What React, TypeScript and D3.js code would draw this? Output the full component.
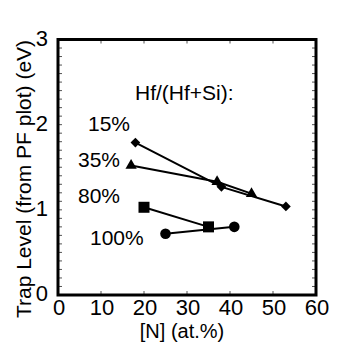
import React from "react";
import * as d3 from "d3";

const xTicks = [0, 10, 20, 30, 40, 50, 60];
const yTicks = [0, 1, 2, 3];

const s15x = [18, 38, 53];
const s15y = [1.79, 1.27, 1.04];
const s35x = [17, 37, 45];
const s35y = [1.52, 1.33, 1.19];
const s80x = [20, 35];
const s80y = [1.03, 0.8];
const s100x = [25, 41];
const s100y = [0.72, 0.8];

const seriesLabels = ["15%", "35%", "80%", "100%"];
const legendTitle = "Hf/(Hf+Si):";
const xTitle = "[N] (at.%)";
const yTitle = "Trap Level (from PF plot) (eV)";

const W = 342, H = 347;
const L = 58, R = 316, T = 39.5, B = 295;

export default function App() {
  const x = d3.scaleLinear().domain([0, 60]).range([L, R]);
  const y = d3.scaleLinear().domain([0, 3]).range([B, T]);
  const line = d3.line<[number, number]>().x(d => x(d[0])).y(d => y(d[1]));
  const pts = (xs: number[], ys: number[]) => xs.map((v, i) => [v, ys[i]] as [number, number]);
  const font = "Liberation Sans, Arial, sans-serif";
  const minorY = d3.range(1, 30).map(i => i / 10);
  const minorX = d3.range(1, 6).map(i => i * 10);

  const diamond = d3.symbol().type(d3.symbolDiamond2).size(60)();
  const tri = d3.symbol().type(d3.symbolTriangle).size(55)();

  const series = [
    { xs: s15x, ys: s15y, kind: "d" },
    { xs: s35x, ys: s35y, kind: "t" },
    { xs: s80x, ys: s80y, kind: "s" },
    { xs: s100x, ys: s100y, kind: "c" },
  ];
  const labelPos = [
    [88, 131], [78, 167], [78, 203], [90, 245],
  ];

  return (
    <svg width={W} height={H} style={{ position: "absolute", left: 0, top: 0, background: "#fff" }}>
      <rect x={0} y={0} width={W} height={H} fill="#fff" />
      {minorY.map(v => (
        <g key={"my" + v}>
          <line x1={L} x2={L + 4} y1={y(v)} y2={y(v)} stroke="#555" strokeWidth={1} />
          <line x1={R} x2={R - 4} y1={y(v)} y2={y(v)} stroke="#555" strokeWidth={1} />
        </g>
      ))}
      {minorX.map(v => (
        <g key={"mx" + v}>
          <line x1={x(v)} x2={x(v)} y1={T} y2={T + 4} stroke="#555" strokeWidth={1} />
          <line x1={x(v)} x2={x(v)} y1={B} y2={B - 4} stroke="#555" strokeWidth={1} />
        </g>
      ))}
      <rect x={L} y={T} width={R - L} height={B - T} fill="none" stroke="#000" strokeWidth={3} />
      {xTicks.map(v => (
        <text key={"xt" + v} x={x(v) + 1} y={315} textAnchor="middle" fontFamily={font} fontSize={22}>{v}</text>
      ))}
      {yTicks.map(v => (
        <text key={"yt" + v} x={48} y={y(v) + 6} textAnchor="end" fontFamily={font} fontSize={22}>{v}</text>
      ))}
      <text x={182} y={338} textAnchor="middle" fontFamily={font} fontSize={20}>{xTitle}</text>
      <text transform={`translate(31,${179}) rotate(-90)`} textAnchor="middle" fontFamily={font} fontSize={21}>{yTitle}</text>
      <text x={135} y={100} fontFamily={font} fontSize={21}>{legendTitle}</text>
      {seriesLabels.map((s, i) => (
        <text key={s} x={labelPos[i][0]} y={labelPos[i][1]} fontFamily={font} fontSize={21}>{s}</text>
      ))}
      {series.map((sr, i) => {
        const p = pts(sr.xs, sr.ys);
        return (
          <g key={"s" + i}>
            <path d={line(p) || ""} fill="none" stroke="#000" strokeWidth={2} />
            {p.map((d, j) => {
              const cx = x(d[0]), cy = y(d[1]);
              if (sr.kind === "d") return <path key={j} d={diamond || ""} transform={`translate(${cx},${cy})`} fill="#000" />;
              if (sr.kind === "t") return <path key={j} d={tri || ""} transform={`translate(${cx},${cy})`} fill="#000" />;
              if (sr.kind === "s") return <rect key={j} x={cx - 5.5} y={cy - 5.5} width={11} height={11} fill="#000" />;
              return <circle key={j} cx={cx} cy={cy} r={5.3} fill="#000" />;
            })}
          </g>
        );
      })}
    </svg>
  );
}
